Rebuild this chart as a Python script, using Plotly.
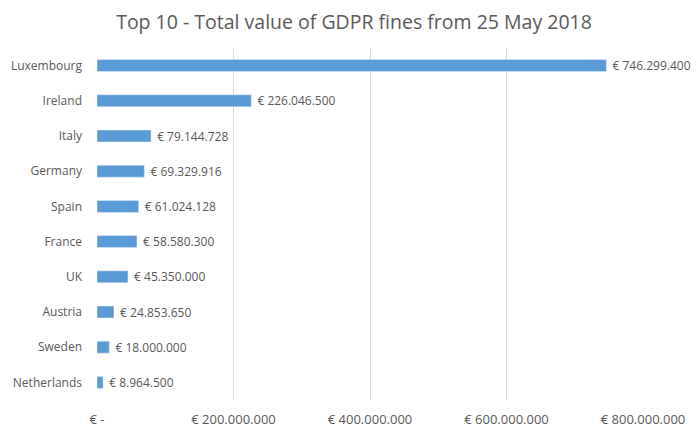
import plotly.graph_objects as go

countries = ["Luxembourg", "Ireland", "Italy", "Germany", "Spain", "France", "UK", "Austria", "Sweden", "Netherlands"]
fines = [746299400, 226046500, 79144728, 69329916, 61024128, 58580300, 45350000, 24853650, 18000000, 8964500]
tick_values = [0, 200000000, 400000000, 600000000, 800000000]
tick_labels = ["€ -", "€ 200.000.000", "€ 400.000.000", "€ 600.000.000", "€ 800.000.000"]

labels = ["\u00a0€ " + f"{v:,}".replace(",", ".") for v in fines]

fig = go.Figure(go.Bar(
    x=fines, y=countries, orientation="h",
    marker=dict(color="#5B9BD5"),
    text=labels, textposition="outside", cliponaxis=False, constraintext="none",
    textfont=dict(color="#595959", size=12),
))

# the page body has an 8px default margin, so the figure is sized 692x427
fig.update_layout(
    width=692, height=427,
    margin=dict(l=89, r=57, t=40, b=35, autoexpand=False),
    paper_bgcolor="white", plot_bgcolor="white",
    font=dict(family="Open Sans", color="#595959", size=12),
    title=dict(text="Top 10 - Total value of GDPR fines from 25 May 2018",
               x=0.5, xanchor="center", y=0.967, yanchor="middle",
               font=dict(size=19.5, color="#595959")),
    bargap=0.66,
    showlegend=False,
)
fig.update_xaxes(range=[0, 800000000], tickvals=tick_values, ticktext=tick_labels,
                 showgrid=True, gridcolor="#D9D9D9", gridwidth=1, zeroline=False,
                 showline=False, ticks="", ticklabelstandoff=10, automargin=False,
                 tickfont=dict(size=13, color="#595959"))
fig.update_yaxes(autorange="reversed", showgrid=False, zeroline=False, showline=False,
                 ticks="", ticklabelstandoff=14, automargin=False,
                 tickfont=dict(size=12, color="#595959"))

fig.write_html("out.html")
